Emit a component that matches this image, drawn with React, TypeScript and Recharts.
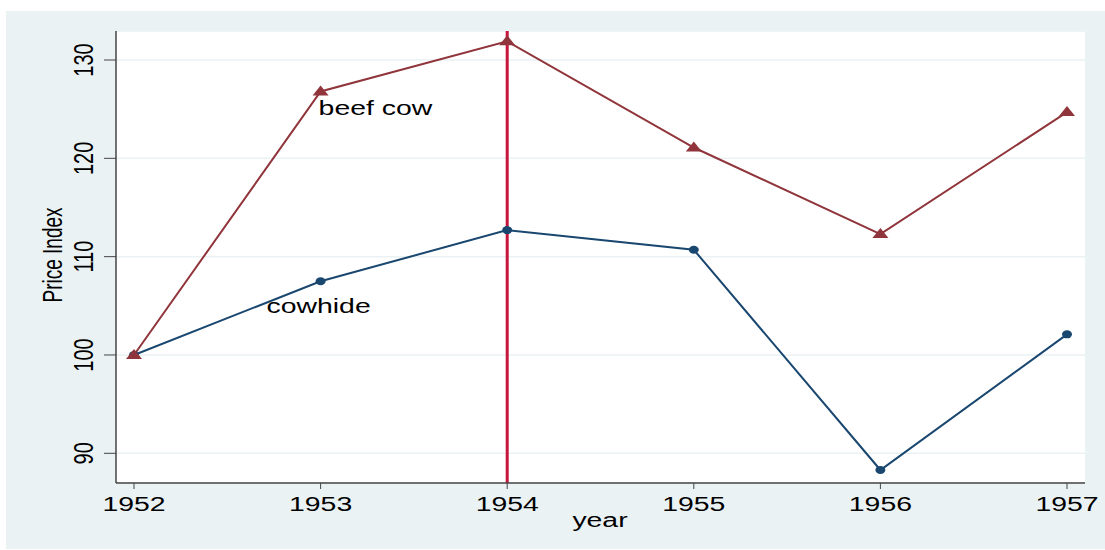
import React from "react";
import {
  CartesianGrid,
  LabelList,
  Line,
  LineChart,
  ReferenceLine,
  XAxis,
  YAxis,
} from "recharts";

const years = [1952, 1953, 1954, 1955, 1956, 1957];
const beefCow = [100, 126.8, 131.9, 121.1, 112.3, 124.7];
const cowhide = [100, 107.5, 112.7, 110.7, 88.3, 102.1];
const yTicks = [90, 100, 110, 120, 130];
const markedYear = 1954;

const rows = years.map((year, i) => ({
  year,
  beefCow: beefCow[i],
  cowhide: cowhide[i],
}));

const FONT = "'Liberation Sans', Arial, sans-serif";
const STRETCH = 1.42;
const BEEF = "#90353B";
const HIDE = "#1A476F";
const BG = "#EAF2F3";

// text widened horizontally like the original export
function WideText(props: {
  x: number;
  y: number;
  size?: number;
  anchor?: "start" | "middle" | "end";
  rotate?: boolean;
  children: React.ReactNode;
}) {
  const { x, y, size = 20, anchor = "middle", rotate = false, children } = props;
  const t = `translate(${x},${y}) scale(${STRETCH},1)${rotate ? " rotate(-90)" : ""}`;
  return (
    <text
      transform={t}
      x={0}
      y={0}
      textAnchor={anchor}
      fontFamily={FONT}
      fontSize={size}
      fill="#000"
    >
      {children}
    </text>
  );
}

const XTick = (p: any) => (
  <WideText x={p.x} y={500}>
    {p.payload.value}
  </WideText>
);

const YTick = (p: any) => (
  <WideText x={86.5} y={p.y} rotate>
    {p.payload.value}
  </WideText>
);

const Triangle = (p: any) => {
  const { cx, cy } = p;
  if (cx == null || cy == null) return null;
  return (
    <polygon
      points={`${cx},${cy - 6} ${cx - 8},${cy + 4} ${cx + 8},${cy + 4}`}
      fill={BEEF}
    />
  );
};

const Dot = (p: any) => {
  const { cx, cy } = p;
  if (cx == null || cy == null) return null;
  return <ellipse cx={cx} cy={cy} rx={5} ry={4} fill={HIDE} />;
};

const beefLabel = (p: any) =>
  p.index === 1 ? (
    <WideText x={p.x - 2} y={p.y + 24} anchor="start">
      beef cow
    </WideText>
  ) : null;

const hideLabel = (p: any) =>
  p.index === 1 ? (
    <WideText x={p.x - 2} y={p.y + 32}>
      cowhide
    </WideText>
  ) : null;

export default function App() {
  return (
    <div style={{ position: "absolute", left: 6, top: 11 }}>
      <LineChart
        width={1099}
        height={538}
        data={rows}
        margin={{ top: 20, right: 20, bottom: 0, left: 0 }}
        style={{ background: BG }}
      >
        <CartesianGrid
          vertical={false}
          fill="#fff"
          stroke={BG}
          strokeWidth={1.5}
        />
        <XAxis
          dataKey="year"
          type="number"
          domain={[1952, 1957]}
          ticks={years}
          padding={{ left: 18, right: 18 }}
          height={66}
          tickSize={6}
          tickLine={{ stroke: "#444" }}
          axisLine={{ stroke: "#444", strokeWidth: 1.5 }}
          tick={XTick}
          label={{
            content: () => (
              <WideText x={594} y={516}>
                year
              </WideText>
            ),
          }}
        />
        <YAxis
          type="number"
          domain={[86.98, 132.95]}
          ticks={yTicks}
          allowDataOverflow
          width={110}
          tickSize={12}
          tickLine={{ stroke: "#444" }}
          axisLine={{ stroke: "#444", strokeWidth: 1.5 }}
          tick={YTick}
          label={{
            content: () => (
              <WideText x={56} y={244} size={19} rotate>
                Price Index
              </WideText>
            ),
          }}
        />
        <ReferenceLine x={markedYear} stroke="#C8153C" strokeWidth={3} />
        <Line
          dataKey="cowhide"
          stroke={HIDE}
          strokeWidth={2}
          dot={Dot}
          activeDot={false}
          isAnimationActive={false}
        >
          <LabelList dataKey="cowhide" content={hideLabel} />
        </Line>
        <Line
          dataKey="beefCow"
          stroke={BEEF}
          strokeWidth={2}
          dot={Triangle}
          activeDot={false}
          isAnimationActive={false}
        >
          <LabelList dataKey="beefCow" content={beefLabel} />
        </Line>
      </LineChart>
    </div>
  );
}
